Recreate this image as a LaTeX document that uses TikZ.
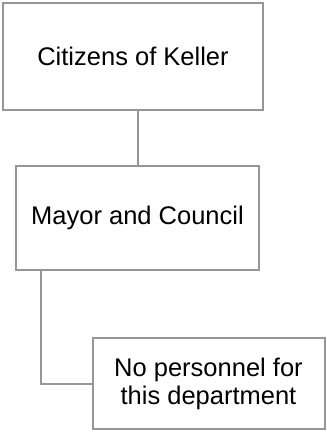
\documentclass[tikz,border=0pt]{standalone}
\usepackage{fontspec}
\setmainfont{Liberation Sans}
\definecolor{framegray}{RGB}{150,150,150}
\begin{document}
\begin{tikzpicture}[x=1pt,y=-1pt,
  orgbox/.style={draw=framegray,line width=2pt,fill=white,inner sep=0pt,
    align=center,font=\fontsize{25.5}{28}\selectfont},
  link/.style={draw=framegray,line width=2pt}]
\useasboundingbox (0,0) rectangle (327,432);
% boxes of the chart
\node[orgbox,minimum width=260pt,minimum height=107pt] (citizens) at (133,56.5) {Citizens of Keller};
\node[orgbox,minimum width=243pt,minimum height=104pt] (mayor) at (137.5,218) {Mayor and Council};
\node[orgbox,minimum width=232pt,minimum height=91pt] (dept) at (208.5,383.5) {No personnel for\\this department};
% connectors
\draw[link] (citizens.south -| 137.5,0) -- (mayor.north -| 137.5,0);
\coordinate (elbow) at (41,383.5);
\draw[link] (mayor.south -| elbow) -- (elbow) -- (dept.west);
\end{tikzpicture}
\end{document}
